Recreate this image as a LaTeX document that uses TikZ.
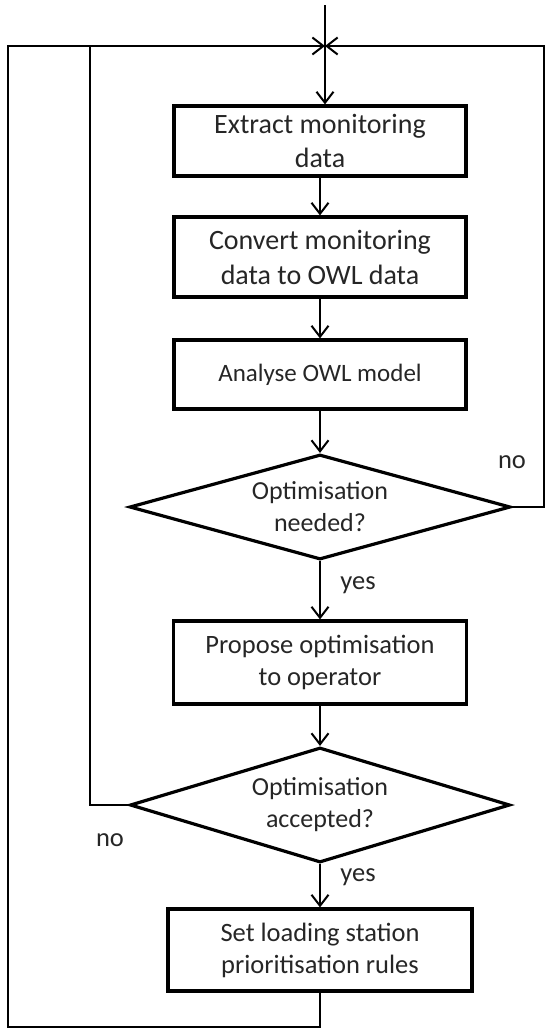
\documentclass[tikz,border=0pt]{standalone}
\usepackage{fontspec}
\setmainfont{Carlito}
\usetikzlibrary{shapes.geometric,arrows.meta}

\begin{document}
\begin{tikzpicture}[x=1bp,y=-1bp,
  flowbox/.style={draw, line width=3.2bp, align=center, inner sep=0pt, text=black!85,
    font=\fontsize{26.5bp}{32bp}\selectfont},
  decision/.style={diamond, draw, line width=3.2bp, align=center, inner sep=0pt, text=black!85,
    font=\fontsize{26bp}{32bp}\selectfont},
  link/.style={line width=2bp, -{Straight Barb[length=11bp,width=17bp,line width=2bp]}},
  plain/.style={line width=2bp},
  lbl/.style={font=\fontsize{26.5bp}{32bp}\selectfont, text=black!85, inner sep=0pt}
]
\useasboundingbox (0,0) rectangle (546,1029);

% process steps
\node[flowbox, minimum width=292bp, minimum height=70bp, font=\fontsize{28bp}{34bp}\selectfont]
  (b1) at (320,141) {Extract monitoring\\data};
\node[flowbox, minimum width=292bp, minimum height=80bp, font=\fontsize{28bp}{35bp}\selectfont]
  (b2) at (320,257) {Convert monitoring\\data to OWL data};
\node[flowbox, minimum width=292bp, minimum height=69bp, font=\fontsize{25bp}{30bp}\selectfont]
  (b3) at (320,374.5) {Analyse OWL model};
\node[decision, aspect=3.6, minimum width=381bp, minimum height=105bp]
  (d1) at (320,507) {Optimisation\\needed?};
\node[flowbox, minimum width=293bp, minimum height=83bp]
  (b4) at (320,662.5) {Propose optimisation\\to operator};
\node[decision, aspect=3.3, minimum width=380bp, minimum height=115bp]
  (d2) at (320,805) {Optimisation\\accepted?};
\node[flowbox, minimum width=304bp, minimum height=82bp]
  (b5) at (320,950) {Set loading station\\prioritisation rules};

% branch labels
\node[lbl] (no1) at (512,462) {no};
\node[lbl] (yes1) at (358,585) {yes};
\node[lbl] (no2) at (110,840) {no};
\node[lbl] (yes2) at (358,877) {yes};

% loop-back routing points
\coordinate (entry) at (325,5);
\coordinate (join) at (325,46);
\coordinate (ne) at (544,46);
\coordinate (inner) at (90,46);
\coordinate (nw) at (8,46);
\coordinate (sw) at (8,1027);

% main flow
\draw[link] (entry) -- (join) -- (join |- b1.north);
\draw[link] (b1) -- (b2);
\draw[link] (b2) -- (b3);
\draw[link] (b3) -- (d1);
\draw[link] (d1) -- (b4);
\draw[link] (b4) -- (d2);
\draw[link] (d2) -- (b5);

% feedback loops
\draw[link] (d1.east) -| (ne) -- (join);
\draw[link] (d2.west) -| (inner) -- (join);
\draw[plain] (b5.south) |- (sw) -- (nw) -- (inner);
\end{tikzpicture}
\end{document}
